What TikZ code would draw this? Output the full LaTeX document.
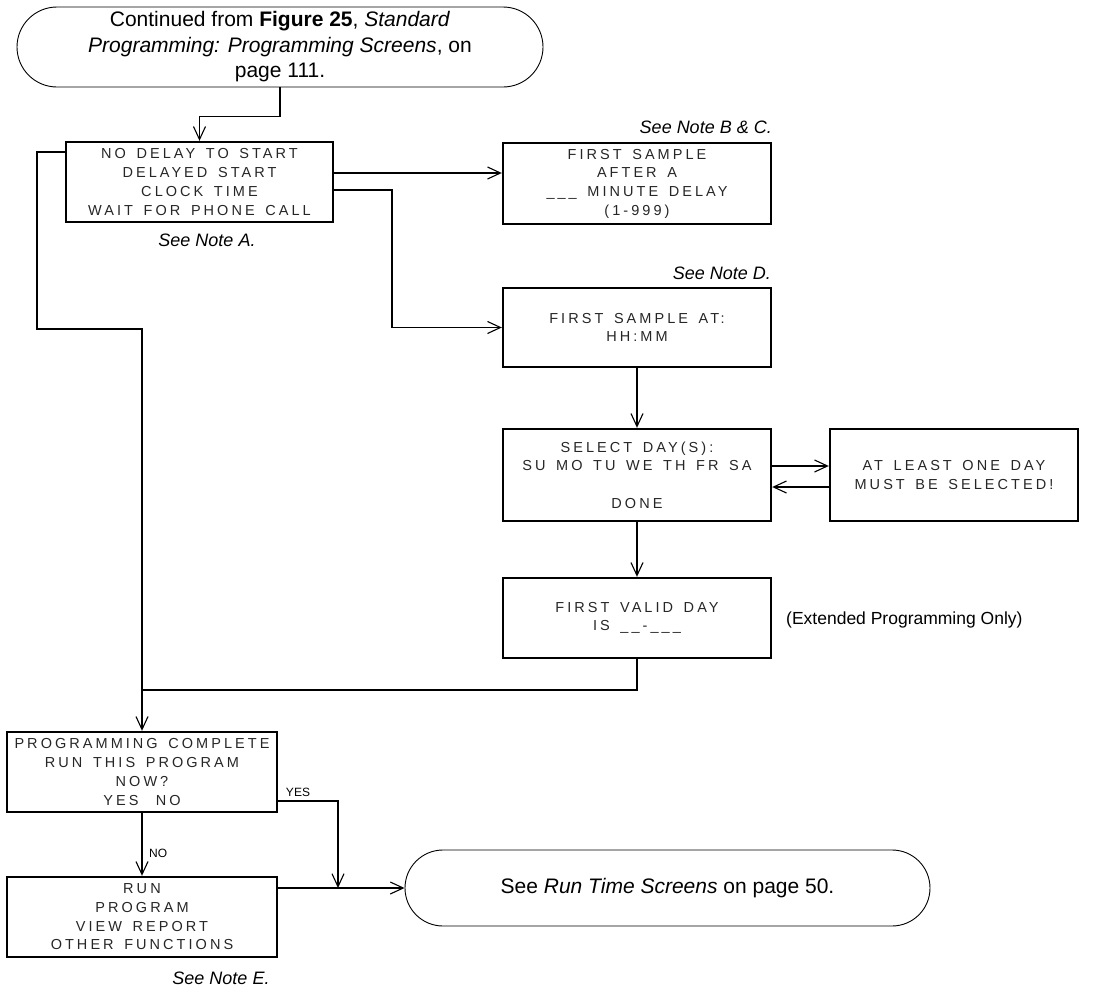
\documentclass[tikz,border=0pt]{standalone}
\usepackage{fontspec}
\setmainfont{Liberation Sans}
\newfontfamily\boxfont[LetterSpace=21,WordSpace=1.5]{Liberation Sans}
\usetikzlibrary{arrows.meta}
\begin{document}
\begin{tikzpicture}[x=1pt,y=-1pt,
  conn/.style={line width=1.1pt, -{Straight Barb[length=13pt,width=12pt,line width=1.1pt]}},
  plain/.style={line width=1.1pt},
  scr/.style={draw, line width=2.4pt, inner sep=0pt, align=center, text=black!85,
    font=\boxfont\fontsize{14.5}{18.7}\selectfont},
  term/.style={draw, line width=0.9pt, inner sep=0pt, align=center,
    font=\fontsize{21}{25.5}\selectfont},
  note/.style={font=\itshape\fontsize{18}{22}\selectfont, inner sep=0pt},
  lab/.style={font=\fontsize{12}{14}\selectfont, inner sep=0pt}]
\useasboundingbox (0,0) rectangle (1093,988);

\node[term, rounded corners=40pt, minimum width=526pt, minimum height=80pt] (start) at (280,47)
  {Continued from \textbf{Figure 25}, \textit{Standard}\\\textit{Programming: Programming Screens}, on\\page 111.};

\node[scr, minimum width=267pt, minimum height=80pt] (b1) at (199.5,182)
  {NO DELAY TO START\\DELAYED START\\CLOCK TIME\\WAIT FOR PHONE CALL};
\node[note] (na) at (207,240) {See Note A.};

\node[scr, minimum width=268pt, minimum height=81pt] (b2) at (637,183.5)
  {FIRST SAMPLE\\AFTER A\\\_\_\_ MINUTE DELAY\\(1-999)};
\node[note, anchor=east] (nbc) at (772,127) {See Note B \& C.};

\node[scr, minimum width=268pt, minimum height=79pt] (b3) at (637,327.5)
  {FIRST SAMPLE AT:\\HH:MM};
\node[note, anchor=east] (nd) at (771,273) {See Note D.};

\node[scr, minimum width=268pt, minimum height=92pt] (b4) at (637,475)
  {SELECT DAY(S):\\SU MO TU WE TH FR SA\\[18.7pt]DONE};
\node[scr, minimum width=248pt, minimum height=92pt] (b5) at (954,475)
  {AT LEAST ONE DAY\\MUST BE SELECTED!};

\node[scr, minimum width=268pt, minimum height=80pt] (b6) at (637,618)
  {FIRST VALID DAY\\IS \_\_-\_\_\_};
\node[anchor=west, inner sep=0pt, font=\fontsize{17.5}{20}\selectfont] (ext) at (786,620)
  {(Extended Programming Only)};

\node[scr, minimum width=270pt, minimum height=80pt] (pc) at (142,772)
  {PROGRAMMING COMPLETE\\RUN THIS PROGRAM\\NOW?\\YES\hspace{1.2em}NO};
\node[scr, minimum width=270pt, minimum height=80pt] (run) at (142,917)
  {RUN\\PROGRAM\\VIEW REPORT\\OTHER FUNCTIONS};
\node[note] (ne) at (221,978) {See Note E.};

\node[term, rounded corners=38pt, minimum width=525pt, minimum height=76pt] (end) at (667.5,888)
  {See \textit{Run Time Screens} on page 50.};

\coordinate (l1) at (37,152);
\coordinate (l2) at (142,329);
\coordinate (r1) at (392,190);
\coordinate (yes) at (338,888);

\draw[conn] (start.south) -- ++(0,29) -| (b1.north);
\draw[conn] (b1.west |- l1) -- (l1) |- (l2) -- (pc.north);
\draw[conn] (b1.east |- 0,173) -- (b2.west |- 0,173);
\draw[conn] (b1.east |- r1) -- (r1) |- (b3.west);
\draw[conn] (b3.south) -- (b4.north);
\draw[conn] (b4.east |- 0,466) -- (b5.west |- 0,466);
\draw[conn] (b5.west |- 0,487) -- (b4.east |- 0,487);
\draw[conn] (b4.south) -- (b6.north);
\draw[plain] (b6.south) |- (l2 |- 0,690);
\draw[conn] (pc.south) -- (run.north);
\node[lab, anchor=west] (nolab) at (149,853) {NO};
\draw[conn] (pc.east |- 0,801) -| (yes);
\node[lab] (yeslab) at (298,792) {YES};
\draw[conn] (run.east |- yes) -- (end.west);
\end{tikzpicture}
\end{document}
